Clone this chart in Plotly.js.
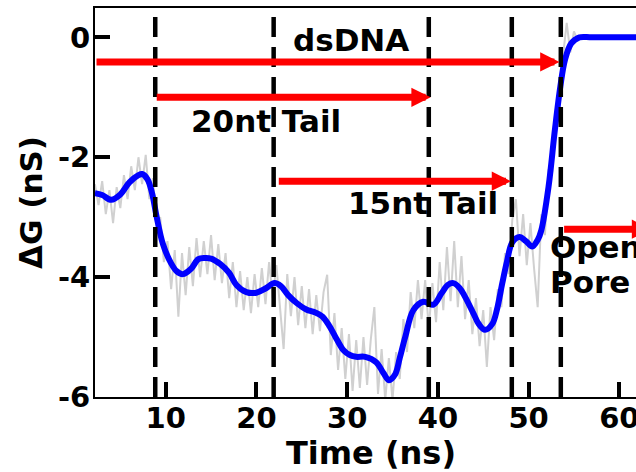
<!DOCTYPE html>
<html>
<head>
<meta charset="utf-8">
<script src="https://cdn.plot.ly/plotly-3.0.1.min.js"></script>
<style>
html,body{margin:0;padding:0;overflow:hidden;background:#fff;width:636px;height:472px;}
#chart{width:700px;height:472px;}
</style>
</head>
<body>
<div id="chart"></div>
<script>
// ---- data ----
const blueTime = [2.2,3.0,4.0,5.0,6.0,7.0,7.4,8.0,8.5,9.0,9.7,10.6,11.2,11.9,12.8,13.6,14.3,15.0,16.0,17.0,17.8,18.9,20.0,21.0,22.0,22.7,23.5,24.5,25.5,26.5,27.3,28.1,28.9,29.6,30.3,31.0,32.0,33.2,34.0,34.6,35.3,35.8,36.4,37.3,38.4,39.5,40.4,41.1,41.7,42.4,43.0,43.9,44.5,45.2,46.0,46.5,47.1,47.6,48.2,49.0,49.7,50.4,51.0,51.4,52.2,52.9,53.5,54.0,54.7,55.6,57.0,64.0];
const blueVal = [-2.60,-2.63,-2.71,-2.62,-2.42,-2.30,-2.28,-2.37,-2.60,-2.99,-3.45,-3.77,-3.90,-3.95,-3.86,-3.70,-3.68,-3.69,-3.78,-3.93,-4.13,-4.25,-4.26,-4.19,-4.10,-4.15,-4.30,-4.44,-4.54,-4.59,-4.66,-4.83,-5.05,-5.22,-5.30,-5.33,-5.33,-5.42,-5.60,-5.72,-5.62,-5.35,-5.00,-4.55,-4.41,-4.46,-4.27,-4.13,-4.10,-4.18,-4.33,-4.60,-4.78,-4.88,-4.78,-4.55,-4.10,-3.75,-3.42,-3.33,-3.40,-3.49,-3.38,-3.22,-2.49,-1.54,-0.82,-0.38,-0.10,0.0,0.0,0.0];

// raw (noisy) conductance, sampled every 0.4 ns from 2.2 ns
const rawStart = 2.2;
const rawStep = 0.4;
const rawVal = [-2.45,-2.80,-2.40,-2.95,-2.55,-3.10,-2.50,-2.85,-2.30,-2.70,
 -2.15,-2.55,-2.00,-2.45,-1.96,-2.70,-2.35,-3.15,-3.00,-3.75,
 -3.40,-4.20,-3.55,-4.66,-3.60,-4.30,-3.50,-4.15,-3.35,-4.00,
 -3.40,-3.95,-3.30,-4.05,-3.45,-4.10,-3.60,-4.35,-3.75,-4.50,
 -3.90,-4.55,-4.00,-4.60,-3.95,-4.50,-3.85,-4.45,-3.75,-4.35,
 -3.80,-4.50,-5.20,-3.95,-4.65,-4.00,-4.80,-4.15,-4.85,-4.20,
 -4.95,-4.30,-4.90,-4.25,-3.96,-5.30,-4.60,-5.55,-4.85,-5.70,
 -4.95,-5.90,-5.05,-5.85,-5.00,-5.80,-5.05,-4.50,-5.95,-5.20,
 -6.05,-5.35,-6.05,-5.25,-5.70,-4.70,-5.25,-4.25,-4.85,-4.05,
 -4.70,-4.05,-4.85,-4.10,-4.75,-3.75,-4.55,-3.50,-4.40,-3.40,
 -4.50,-3.65,-4.70,-4.05,-4.95,-4.35,-5.15,-4.55,-5.50,-4.50,
 -5.05,-4.20,-4.50,-3.60,-3.95,-3.05,-2.70,-3.65,-2.95,-3.80,
 -3.10,-3.85,-4.50,-2.95,-3.30,-2.20,-2.25,-1.20,-1.10,-0.30,
 0.24,-0.25,0.10,-0.05,0.04];

// event markers (dashed lines) and arrows
const eventTimes = [8.85, 21.9, 39.0, 48.15, 53.55];
const arrowStart = [2.21, 8.85, 22.3, 53.75];
const arrowEnd = [53.4, 39.2, 48.06, 63.5];
const arrowLevel = [-0.41, -1.0, -2.4, -3.2];

const labelText = ['dsDNA', '20nt Tail', '15nt Tail', 'Open', 'Pore'];
const labelX = [30.4, 21.1, 38.36, 52.14, 52.14];
const labelY = [-0.04, -1.39, -2.76, -3.49, -4.08];
const labelAnchor = ['center', 'center', 'center', 'left', 'left'];

const xTickVals = [10, 20, 30, 40, 50, 60];
const xTickText = ['10', '20', '30', '40', '50', '60'];
const yTickVals = [-6, -4, -2, 0];
const yTickText = ['-6', '-4', '-2', '0'];

// ---- figure ----
const FONT = 'DejaVu Sans, Arial, sans-serif';

const traces = [
  {
    type: 'scatter', mode: 'lines',
    x0: rawStart, dx: rawStep, y: rawVal,
    line: {color: '#d0d0d0', width: 2},
    hoverinfo: 'skip', showlegend: false
  },
  {
    type: 'scatter', mode: 'lines',
    x: blueTime, y: blueVal,
    line: {color: '#0000ff', width: 6, shape: 'spline', smoothing: 1},
    hoverinfo: 'skip', showlegend: false
  }
];

const shapes = eventTimes.map(t => ({
  type: 'line', xref: 'x', yref: 'paper', x0: t, x1: t, y0: 0, y1: 1,
  line: {color: '#000', width: 4.5, dash: '20px,10px'}, layer: 'above'
}));

const annotations = [];
arrowStart.forEach((s, i) => {
  annotations.push({
    x: arrowEnd[i], y: arrowLevel[i], xref: 'x', yref: 'y',
    ax: s, ay: arrowLevel[i], axref: 'x', ayref: 'y',
    text: '', showarrow: true, arrowhead: 2, arrowsize: 0.55,
    arrowwidth: 7, arrowcolor: '#ff0000', standoff: 0, startstandoff: 0
  });
});
labelText.forEach((t, i) => {
  annotations.push({
    x: labelX[i], y: labelY[i], xref: 'x', yref: 'y',
    text: t, showarrow: false, xanchor: labelAnchor[i], yanchor: 'middle',
    font: {family: FONT, size: 31, color: '#000', weight: 'bold'}
  });
});

const layout = {
  width: 700, height: 472,
  margin: {l: 95, r: 53, t: 8, b: 75},
  paper_bgcolor: '#fff', plot_bgcolor: '#fff',
  showlegend: false,
  xaxis: {
    range: [2.21, 63.05],
    tickvals: xTickVals, ticktext: xTickText,
    ticks: 'inside', ticklen: 15, tickwidth: 4, tickcolor: '#000',
    ticklabelstandoff: -6,
    showline: true, linecolor: '#000', linewidth: 2, mirror: true,
    showgrid: false, zeroline: false,
    tickfont: {family: FONT, size: 29, color: '#000', weight: 'bold'},
    title: {text: 'Time (ns)', font: {family: FONT, size: 32, color: '#000', weight: 'bold'}, standoff: 4}
  },
  yaxis: {
    range: [-6, 0.49],
    tickvals: yTickVals, ticktext: yTickText,
    ticks: 'inside', ticklen: 15, tickwidth: 4, tickcolor: '#000',
    ticklabelstandoff: -3,
    showline: true, linecolor: '#000', linewidth: 2, mirror: true,
    showgrid: false, zeroline: false,
    tickfont: {family: FONT, size: 29, color: '#000', weight: 'bold'},
    title: {text: 'ΔG (nS)', font: {family: FONT, size: 31, color: '#000', weight: 'bold'}, standoff: 6}
  },
  shapes: shapes,
  annotations: annotations
};

Plotly.newPlot('chart', traces, layout, {displayModeBar: false, staticPlot: true});
</script>
</body>
</html>
